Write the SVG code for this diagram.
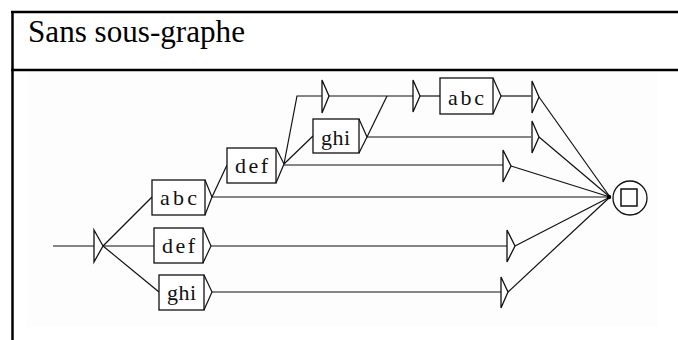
<svg xmlns="http://www.w3.org/2000/svg" width="678" height="340" viewBox="0 0 678 340">
<style>
.frame{stroke:#000;stroke-width:2.5;fill:none}
.ln{stroke:#111;stroke-width:1.2;fill:none}
.box{fill:#fff;stroke:#111;stroke-width:1.3}
.tri{fill:#fff;stroke:#111;stroke-width:1.3;stroke-linejoin:miter}
.lbl{font-family:"Liberation Serif","Times New Roman",serif;font-size:22px;fill:#111}
.title{font-family:"Liberation Serif","Times New Roman",serif;font-size:31px;fill:#000}
</style>
<rect x="0" y="0" width="678" height="340" fill="#fff"/>
<rect x="27" y="72" width="630" height="255" fill="#fdfdfd"/>
<g id="frame">
<line class="frame" x1="11" y1="12" x2="678" y2="12"/>
<line class="frame" x1="11" y1="70" x2="678" y2="70"/>
<line class="frame" x1="12.5" y1="11" x2="12.5" y2="340"/>
</g>
<text class="title" x="28" y="42" textLength="217" lengthAdjust="spacingAndGlyphs">Sans sous-graphe</text>
<g id="connectors">
<line class="ln" x1="53" y1="246" x2="94" y2="246"/>
<line class="ln" x1="103" y1="246" x2="152" y2="197"/>
<line class="ln" x1="103" y1="246" x2="154" y2="246"/>
<line class="ln" x1="103" y1="246" x2="159" y2="292"/>
<line class="ln" x1="212" y1="197" x2="227" y2="165"/>
<line class="ln" x1="212" y1="197" x2="610" y2="197"/>
<polyline class="ln" points="284,164 297,96 322,96"/>
<line class="ln" x1="284" y1="164" x2="313" y2="136"/>
<line class="ln" x1="284" y1="165" x2="503" y2="165"/>
<line class="ln" x1="329" y1="96" x2="413" y2="96"/>
<line class="ln" x1="367" y1="137" x2="387" y2="96"/>
<line class="ln" x1="367" y1="137" x2="531" y2="137"/>
<line class="ln" x1="420" y1="96" x2="440" y2="96"/>
<line class="ln" x1="501" y1="96" x2="531" y2="96"/>
<line class="ln" x1="211" y1="246" x2="507" y2="246"/>
<line class="ln" x1="212" y1="292" x2="501" y2="292"/>
<line class="ln" x1="539" y1="97" x2="610" y2="197"/>
<line class="ln" x1="539" y1="137" x2="610" y2="197"/>
<line class="ln" x1="511" y1="166" x2="610" y2="197"/>
<line class="ln" x1="515" y1="246" x2="610" y2="197"/>
<line class="ln" x1="508" y1="292" x2="610" y2="197"/>
</g>
<g id="initial">
<polygon class="tri" points="94,230 103,246 94,262"/>
</g>
<g id="n_abc1">
<rect class="box" x="152" y="180" width="53" height="35"/>
<polyline class="ln" points="205,180 212,197 205,215"/>
<text class="lbl" x="160" y="205" textLength="37" lengthAdjust="spacing">abc</text>
</g>
<g id="n_def1">
<rect class="box" x="154" y="228" width="49" height="35"/>
<polyline class="ln" points="203,228 211,246 203,263"/>
<text class="lbl" x="162" y="253" textLength="33" lengthAdjust="spacing">def</text>
</g>
<g id="n_ghi1">
<rect class="box" x="159" y="275" width="45" height="35"/>
<polyline class="ln" points="204,275 212,292 204,310"/>
<text class="lbl" x="167" y="300" textLength="29" lengthAdjust="spacing">ghi</text>
</g>
<g id="n_def2">
<rect class="box" x="227" y="148" width="49" height="35"/>
<polyline class="ln" points="276,148 284,164 276,183"/>
<text class="lbl" x="235" y="173" textLength="33" lengthAdjust="spacing">def</text>
</g>
<g id="n_ghi2">
<rect class="box" x="313" y="119" width="46" height="34"/>
<polyline class="ln" points="359,119 367,137 359,153"/>
<text class="lbl" x="321" y="145" textLength="29" lengthAdjust="spacing">ghi</text>
</g>
<g id="n_abc2">
<rect class="box" x="440" y="78" width="53" height="36"/>
<polyline class="ln" points="493,78 501,96 493,114"/>
<text class="lbl" x="448" y="105" textLength="36" lengthAdjust="spacing">abc</text>
</g>
<g id="t1"><polygon class="tri" points="322,80 329,96 322,113"/></g>
<g id="t2"><polygon class="tri" points="413,80 420,96 413,112"/></g>
<g id="t3"><polygon class="tri" points="532,81 539,97 532,113"/></g>
<g id="t4"><polygon class="tri" points="532,121 539,137 532,153"/></g>
<g id="t5"><polygon class="tri" points="503,150 511,166 503,182"/></g>
<g id="t6"><polygon class="tri" points="507,230 515,246 507,262"/></g>
<g id="t7"><polygon class="tri" points="501,277 508,292 501,308"/></g>
<g id="final">
<circle cx="609" cy="197" r="2.2" fill="#000"/>
<circle cx="630" cy="198" r="17" fill="#fff" stroke="#111" stroke-width="1.3"/>
<rect x="621" y="189" width="16" height="17" fill="none" stroke="#111" stroke-width="1.5"/>
</g>
</svg>
